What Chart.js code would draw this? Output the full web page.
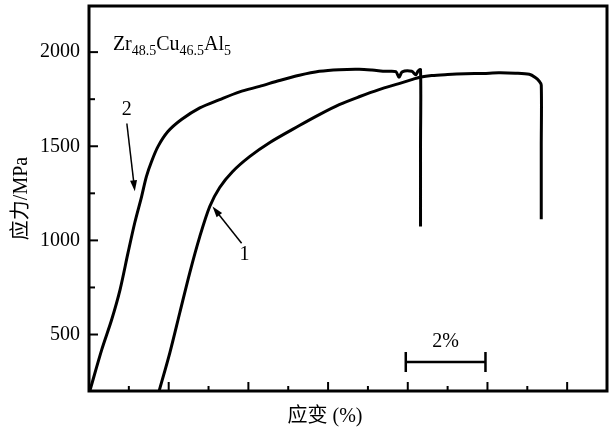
<!DOCTYPE html>
<html>
<head>
<meta charset="utf-8">
<style>
  html, body { margin: 0; padding: 0; background: #fff; }
  #wrap { width: 614px; height: 434px; }
</style>
<script src="https://cdn.jsdelivr.net/npm/chart.js@4.4.1/dist/chart.umd.min.js"></script>
</head>
<body>
<div id="wrap"><canvas id="stressChart" width="614" height="434"></canvas></div>
<script>
// curve 1 (right curve)
const strain1 = [1.76, 2.03, 2.28, 2.53, 2.78, 3.03, 3.28, 3.6, 4.03, 4.53, 5.28, 5.78, 6.28, 6.78, 7.28, 7.78, 8.1, 8.33, 8.6, 9.0, 9.45, 9.9, 10.28, 10.7, 11.05, 11.2, 11.3, 11.35, 11.35, 11.35];
const stress1 = [200, 404, 617, 829, 1020, 1180, 1281, 1365, 1445, 1519, 1610, 1668, 1721, 1763, 1801, 1833, 1854, 1868, 1876, 1881, 1885, 1887, 1890, 1888, 1882, 1865, 1845, 1825, 1500, 1112];

// curve 2 (left curve)
const strain2 = [0.02, 0.32, 0.57, 0.78, 0.98, 1.15, 1.32, 1.44, 1.57, 1.73, 1.98, 2.32, 2.78, 3.28, 3.78, 4.28, 4.78, 5.28, 5.78, 6.28, 6.78, 7.1, 7.45, 7.7, 7.78, 7.86, 8.1, 8.2, 8.26, 8.32, 8.32, 8.32];
const stress2 = [200, 420, 580, 739, 935, 1095, 1233, 1339, 1419, 1498, 1578, 1642, 1704, 1748, 1789, 1818, 1849, 1877, 1898, 1907, 1909, 1905, 1898, 1896, 1866, 1895, 1898, 1880, 1900, 1907, 1500, 1074];

const yTicks = [500, 750, 1000, 1250, 1500, 1750, 2000];
const xTicks = [0, 1, 2, 3, 4, 5, 6, 7, 8, 9, 10, 11, 12, 13];

const serif = '"Liberation Serif", "Noto Sans CJK SC", serif';

function toPoints(xs, ys) {
  return xs.map((x, i) => ({ x: x, y: ys[i] }));
}

/* 轴框、内向刻度和标注 */
const decor = {
  id: 'decor',
  afterDraw(chart) {
    const { ctx, chartArea: a, scales: { x, y } } = chart;
    ctx.save();
    ctx.strokeStyle = '#000';
    ctx.fillStyle = '#000';

    // ticks
    ctx.lineWidth = 2;
    y.ticks.forEach(t => {
      const py = y.getPixelForValue(t.value);
      const len = t.value % 500 === 0 ? 9 : 6;
      ctx.beginPath(); ctx.moveTo(a.left, py); ctx.lineTo(a.left + len, py); ctx.stroke();
    });
    x.ticks.forEach(t => {
      if (t.value === 0 || t.value === 13) return;
      const px = x.getPixelForValue(t.value);
      const len = t.value % 2 === 0 ? 9 : 5;
      ctx.beginPath(); ctx.moveTo(px, a.bottom); ctx.lineTo(px, a.bottom - len); ctx.stroke();
    });

    // frame
    ctx.lineWidth = 3;
    ctx.strokeRect(a.left, a.top, a.right - a.left, a.bottom - a.top);

    // alloy name
    let cx = x.getPixelForValue(0.6);
    const base = y.getPixelForValue(2013);
    [['Zr', 0], ['48.5', 1], ['Cu', 0], ['46.5', 1], ['Al', 0], ['5', 1]].forEach(([s, sub]) => {
      ctx.font = sub ? '14px ' + serif : '20px ' + serif;
      ctx.textAlign = 'left';
      ctx.textBaseline = 'alphabetic';
      ctx.fillText(s, cx, base + (sub ? 5 : 0));
      cx += ctx.measureText(s).width;
    });

    // curve labels and arrows
    ctx.font = '20px ' + serif;
    ctx.textAlign = 'center';
    ctx.textBaseline = 'middle';
    ctx.fillText('2', x.getPixelForValue(0.95), y.getPixelForValue(1695));
    ctx.fillText('1', x.getPixelForValue(3.9), y.getPixelForValue(925));
    arrow(ctx, x.getPixelForValue(0.95), y.getPixelForValue(1621), x.getPixelForValue(1.15), y.getPixelForValue(1261));
    arrow(ctx, x.getPixelForValue(3.83), y.getPixelForValue(985), x.getPixelForValue(3.1), y.getPixelForValue(1180));

    // 2% scale bar
    const x0 = x.getPixelForValue(7.95), x1 = x.getPixelForValue(9.95), yb = y.getPixelForValue(354);
    ctx.lineWidth = 2.5;
    ctx.beginPath();
    ctx.moveTo(x0, yb); ctx.lineTo(x1, yb);
    ctx.moveTo(x0, yb - 10); ctx.lineTo(x0, yb + 10);
    ctx.moveTo(x1, yb - 10); ctx.lineTo(x1, yb + 10);
    ctx.stroke();
    ctx.fillText('2%', x.getPixelForValue(8.95), y.getPixelForValue(460));

    // x axis title
    ctx.font = '20px ' + serif;
    ctx.fillText('应变 (%)', 325, 417);
    ctx.restore();
  }
};

function arrow(ctx, x0, y0, x1, y1) {
  const ang = Math.atan2(y1 - y0, x1 - x0);
  ctx.lineWidth = 1.5;
  ctx.beginPath(); ctx.moveTo(x0, y0); ctx.lineTo(x1 - 6 * Math.cos(ang), y1 - 6 * Math.sin(ang)); ctx.stroke();
  ctx.beginPath();
  ctx.moveTo(x1, y1);
  ctx.lineTo(x1 - 11 * Math.cos(ang) + 3.5 * Math.sin(ang), y1 - 11 * Math.sin(ang) - 3.5 * Math.cos(ang));
  ctx.lineTo(x1 - 11 * Math.cos(ang) - 3.5 * Math.sin(ang), y1 - 11 * Math.sin(ang) + 3.5 * Math.cos(ang));
  ctx.closePath(); ctx.fill();
}

new Chart(document.getElementById('stressChart'), {
  type: 'scatter',
  data: {
    datasets: [
      { label: '1', data: toPoints(strain1, stress1) },
      { label: '2', data: toPoints(strain2, stress2) }
    ]
  },
  options: {
    responsive: false,
    animation: false,
    showLine: true,
    layout: { padding: { top: 6, right: 7, left: 0, bottom: 0 } },
    elements: {
      point: { radius: 0 },
      line: { borderColor: '#000', borderWidth: 3, tension: 0.3, borderJoinStyle: 'round', borderCapStyle: 'butt' }
    },
    plugins: { legend: { display: false }, tooltip: { enabled: false } },
    scales: {
      x: {
        type: 'linear',
        min: 0, max: 13,
        grid: { display: false, drawTicks: false },
        border: { display: false },
        ticks: { display: false },
        afterBuildTicks: s => { s.ticks = xTicks.map(v => ({ value: v })); },
        afterFit: s => { s.height = 43; s.paddingLeft = 0; s.paddingRight = 0; }
      },
      y: {
        type: 'linear',
        min: 200, max: 2245,
        grid: { display: false, drawTicks: false },
        border: { display: false },
        afterBuildTicks: s => { s.ticks = yTicks.map(v => ({ value: v })); },
        ticks: {
          color: '#000',
          padding: 9,
          font: { family: serif, size: 20 },
          callback: v => (v % 500 === 0 ? String(v) : '')
        },
        title: {
          display: true,
          text: '应力/MPa',
          color: '#000',
          font: { family: serif, size: 20 },
          padding: { top: 10, bottom: 0 }
        },
        afterFit: s => { s.width = 89; s.paddingTop = 0; s.paddingBottom = 0; }
      }
    }
  },
  plugins: [decor]
});
</script>
</body>
</html>
